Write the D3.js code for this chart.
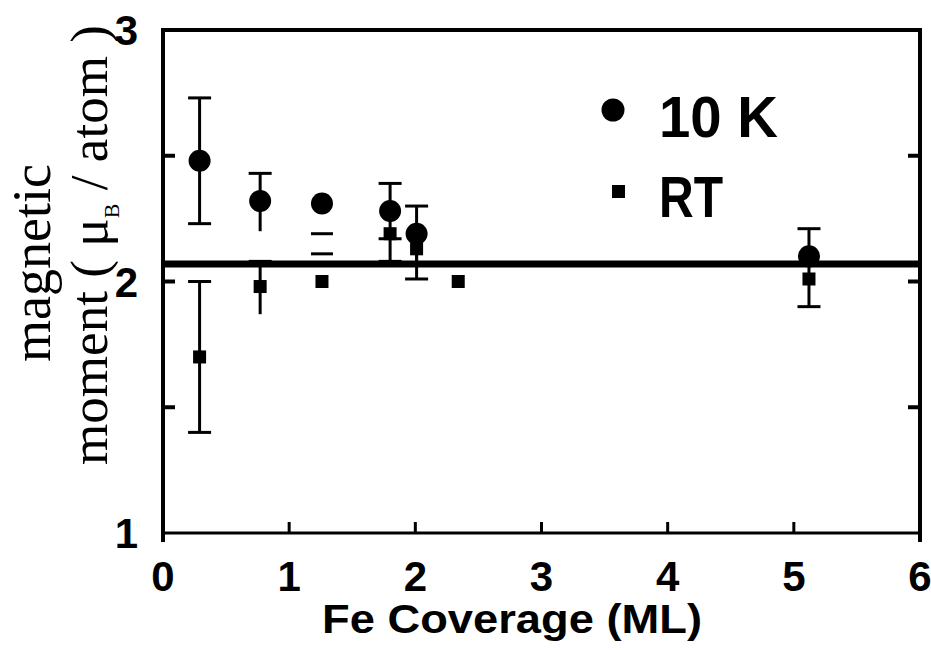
<!DOCTYPE html>
<html>
<head>
<meta charset="utf-8">
<script src="https://cdn.jsdelivr.net/npm/d3@7"></script>
<style>
  body { margin: 0; background: #fff; }
  svg { display: block; }
</style>
</head>
<body>
<div id="chart"></div>
<script>
// 10 K series
var cov10K = [0.29, 0.77, 1.26, 1.80, 2.01, 5.12];
var mom10K = [2.48, 2.32, 2.31, 2.28, 2.19, 2.10];
var lo10K = [2.23, 2.20, null, 2.17, 2.08, 2.02];
var hi10K = [2.73, 2.43, null, 2.39, 2.30, 2.21];
var capLo10K = [true, false, false, true, false, false];
var capHi10K = [true, true, false, true, true, true];

// RT series
var covRT = [0.29, 0.77, 1.26, 1.80, 2.01, 2.34, 5.12];
var momRT = [1.70, 1.98, 2.00, 2.19, 2.13, 2.00, 2.01];
var loRT = [1.40, 1.87, null, 2.08, 2.01, null, 1.90];
var hiRT = [2.00, 2.08, null, 2.19, 2.19, null, 2.02];
var capLoRT = [true, false, false, true, true, false, true];
var capHiRT = [true, true, false, false, false, false, false];

// loose error caps at 1.26 ML
var looseCapX = [1.26, 1.26];
var looseCapY = [2.19, 2.11];

var refMoment = 2.07;
var xTicks = [0, 1, 2, 3, 4, 5, 6];
var yTicks = [1, 2, 3];
var yMinor = [1.5, 2, 2.5];
var legendLabels = ["10 K", "RT"];

var W = 931, H = 650;
var plotLeft = 163, plotRight = 920, plotTop = 30, plotBottom = 533;

var svg = d3.select("#chart")
    .append("svg")
        .attr("width", W)
        .attr("height", H);

var x = d3.scaleLinear().domain([0, 6]).range([plotLeft, plotRight]);
var y = d3.scaleLinear().domain([1, 3]).range([plotBottom, plotTop]);

var sans = "'Liberation Sans', Arial, Helvetica, sans-serif";
var serif = "'Liberation Serif', 'Times New Roman', serif";

function build(xs, ys, lo, hi, capLo, capHi){
    return xs.map(function(d, i){
        return { x: d, y: ys[i], lo: lo[i], hi: hi[i], capLo: capLo[i], capHi: capHi[i] };
    });
}
var data10K = build(cov10K, mom10K, lo10K, hi10K, capLo10K, capHi10K);
var dataRT = build(covRT, momRT, loRT, hiRT, capLoRT, capHiRT);

// frame
var frame = svg.append("g").attr("stroke", "#000").attr("fill", "none");
frame.append("line").attr("x1", plotLeft - 2).attr("x2", plotRight + 2).attr("y1", plotTop).attr("y2", plotTop).attr("stroke-width", 4);
frame.append("line").attr("x1", plotLeft).attr("x2", plotLeft).attr("y1", plotTop).attr("y2", plotBottom + 9).attr("stroke-width", 4);
frame.append("line").attr("x1", plotRight).attr("x2", plotRight).attr("y1", plotTop).attr("y2", plotBottom + 9).attr("stroke-width", 4);
frame.append("line").attr("x1", plotLeft).attr("x2", plotRight).attr("y1", plotBottom).attr("y2", plotBottom).attr("stroke-width", 3);

// inward ticks
frame.selectAll(".xt").data(xTicks.slice(1, -1)).enter()
    .append("line")
    .attr("x1", function(d){ return x(d); })
    .attr("x2", function(d){ return x(d); })
    .attr("y1", plotBottom)
    .attr("y2", plotBottom - 11)
    .attr("stroke-width", 3);

frame.selectAll(".ytl").data(yMinor).enter()
    .append("line")
    .attr("x1", plotLeft)
    .attr("x2", plotLeft + 12)
    .attr("y1", function(d){ return y(d); })
    .attr("y2", function(d){ return y(d); })
    .attr("stroke-width", 4);

frame.selectAll(".ytr").data(yMinor).enter()
    .append("line")
    .attr("x1", plotRight)
    .attr("x2", plotRight - 12)
    .attr("y1", function(d){ return y(d); })
    .attr("y2", function(d){ return y(d); })
    .attr("stroke-width", 4);

// reference line
svg.append("line")
    .attr("x1", plotLeft)
    .attr("x2", plotRight)
    .attr("y1", y(refMoment))
    .attr("y2", y(refMoment))
    .attr("stroke", "#000")
    .attr("stroke-width", 7);

// error bars
function drawErrors(data){
    var g = svg.append("g").attr("stroke", "#000").attr("stroke-width", 3);
    var withBars = data.filter(function(d){ return d.lo != null; });
    g.selectAll(".bar").data(withBars).enter()
        .append("line")
        .attr("x1", function(d){ return x(d.x); })
        .attr("x2", function(d){ return x(d.x); })
        .attr("y1", function(d){ return y(d.lo); })
        .attr("y2", function(d){ return y(d.hi); });
    g.selectAll(".capHi").data(withBars.filter(function(d){ return d.capHi; })).enter()
        .append("line")
        .attr("x1", function(d){ return x(d.x) - 11.5; })
        .attr("x2", function(d){ return x(d.x) + 11.5; })
        .attr("y1", function(d){ return y(d.hi); })
        .attr("y2", function(d){ return y(d.hi); });
    g.selectAll(".capLo").data(withBars.filter(function(d){ return d.capLo; })).enter()
        .append("line")
        .attr("x1", function(d){ return x(d.x) - 11.5; })
        .attr("x2", function(d){ return x(d.x) + 11.5; })
        .attr("y1", function(d){ return y(d.lo); })
        .attr("y2", function(d){ return y(d.lo); });
}
drawErrors(data10K);
drawErrors(dataRT);

svg.append("g").selectAll("line").data(looseCapX).enter()
    .append("line")
    .attr("x1", function(d){ return x(d) - 11; })
    .attr("x2", function(d){ return x(d) + 11; })
    .attr("y1", function(d, i){ return y(looseCapY[i]); })
    .attr("y2", function(d, i){ return y(looseCapY[i]); })
    .attr("stroke", "#000")
    .attr("stroke-width", 3);

// markers
svg.append("g").selectAll("rect").data(dataRT).enter()
    .append("rect")
    .attr("x", function(d){ return x(d.x) - 6.5; })
    .attr("y", function(d){ return y(d.y) - 6.5; })
    .attr("width", 13)
    .attr("height", 13)
    .attr("fill", "#000");

svg.append("g").selectAll("circle").data(data10K).enter()
    .append("circle")
    .attr("cx", function(d){ return x(d.x); })
    .attr("cy", function(d){ return y(d.y); })
    .attr("r", 11)
    .attr("fill", "#000");

// tick labels
svg.append("g").selectAll("text").data(xTicks).enter()
    .append("text")
    .attr("x", function(d){ return x(d); })
    .attr("y", 591)
    .attr("text-anchor", "middle")
    .attr("font-family", sans)
    .attr("font-weight", "bold")
    .attr("font-size", 42)
    .text(function(d){ return d; });

svg.append("g").selectAll("text").data(yTicks).enter()
    .append("text")
    .attr("x", 138)
    .attr("y", function(d){ return y(d) + 15; })
    .attr("text-anchor", "end")
    .attr("font-family", sans)
    .attr("font-weight", "bold")
    .attr("font-size", 42)
    .text(function(d){ return d; });

// x axis title
svg.append("text")
    .attr("x", 512)
    .attr("y", 633)
    .attr("text-anchor", "middle")
    .attr("font-family", sans)
    .attr("font-weight", "bold")
    .attr("font-size", 40)
    .attr("textLength", 380)
    .attr("lengthAdjust", "spacingAndGlyphs")
    .text("Fe Coverage (ML)");

// y axis title, two lines
svg.append("text")
    .attr("transform", "translate(50,263) rotate(-90)")
    .attr("text-anchor", "middle")
    .attr("font-family", serif)
    .attr("font-size", 54)
    .text("magnetic");

var yl2 = svg.append("text")
    .attr("transform", "translate(107,465) rotate(-90)")
    .attr("font-family", serif)
    .attr("font-size", 53)
    .attr("textLength", 440)
    .attr("lengthAdjust", "spacing");
yl2.append("tspan").text("moment ( μ");
yl2.append("tspan").attr("font-size", 22).attr("dy", 12).text("B");
yl2.append("tspan").attr("dy", -12).text(" / atom )");

// legend
var legend = svg.append("g");
legend.append("circle").attr("cx", 613).attr("cy", 110).attr("r", 11.5).attr("fill", "#000");
legend.append("rect").attr("x", 612).attr("y", 185).attr("width", 13).attr("height", 13).attr("fill", "#000");
legend.selectAll("text").data(legendLabels).enter()
    .append("text")
    .attr("x", 659)
    .attr("y", function(d, i){ return 137 + i * 80; })
    .attr("font-family", sans)
    .attr("font-weight", "bold")
    .attr("font-size", 58)
    .attr("textLength", function(d, i){ return i == 0 ? 119 : 64; })
    .attr("lengthAdjust", "spacingAndGlyphs")
    .text(function(d){ return d; });
</script>
</body>
</html>
